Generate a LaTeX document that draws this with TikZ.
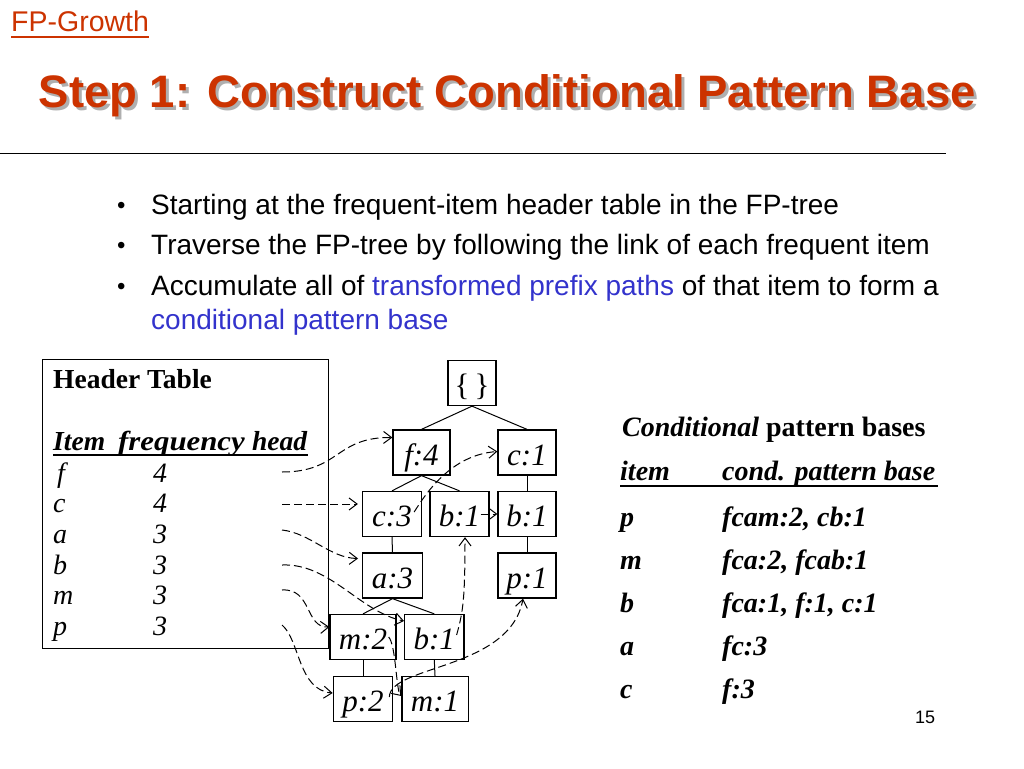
\documentclass[tikz,border=0pt]{standalone}
\usepackage{fontspec}
\setmainfont{Liberation Serif}
\newfontfamily\arial{Liberation Sans}
\usetikzlibrary{arrows.meta}
\definecolor{titlered}{RGB}{204,51,0}
\definecolor{linkblue}{RGB}{51,51,204}
\definecolor{shadowgray}{RGB}{175,175,175}
\newcommand\myfs[1]{\fontsize{#1}{#1}\selectfont}
\newcommand\mytitletext{Step 1: Construct Conditional Pattern Base}
\begin{document}
\begin{tikzpicture}[x=1pt,y=-1pt,
  treenode/.style={draw, line width=1.3pt, minimum height=45pt, inner sep=0pt, text height=25pt, text depth=0pt, font=\myfs{31}\itshape},
  edge/.style={line width=1pt},
  link/.style={line width=1pt, dash pattern=on 8pt off 4pt, -{Straight Barb[length=8pt,width=12pt]}},
  txt/.style={anchor=base west, inner sep=0pt},
  htxt/.style={txt, font=\myfs{28}\itshape},
  rtxt/.style={txt, font=\myfs{28}\bfseries\itshape},
  btxt/.style={txt, font=\arial\myfs{28}}
]
\useasboundingbox (0,0) rectangle (1024,768);
% header
\node[txt, font=\arial\myfs{28.5}, text=titlered] (fpg) at (11,32) {FP-Growth};
\draw[titlered, line width=1.5pt] ([yshift=-5pt]fpg.base west) -- ([yshift=-5pt]fpg.base east);
\node[txt, font=\arial\bfseries\myfs{45.5}] (title) at (38.5,107)
  {\rlap{\kern3pt\raisebox{-3pt}{\textcolor{shadowgray}{\mytitletext}}}\textcolor{titlered}{\mytitletext}};
\draw[line width=1pt] (0,153) -- (946,153);
% bullets
\node[btxt, font=\arial\myfs{24}] (b1) at (117,213) {\textbullet};
\node[btxt] (t1) at (151,214) {Starting at the frequent-item header table in the FP-tree};
\node[btxt, font=\arial\myfs{24}] (b2) at (117,253) {\textbullet};
\node[btxt] (t2) at (151,254) {Traverse the FP-tree by following the link of each frequent item};
\node[btxt, font=\arial\myfs{24}] (b3) at (117,294) {\textbullet};
\node[btxt] (t3) at (151,295) {Accumulate all of \textcolor{linkblue}{transformed prefix paths} of that item to form a};
\node[btxt, text=linkblue] (t4) at (151,329) {conditional pattern base};
% header table
\node[draw, line width=1.3pt, minimum width=286pt, minimum height=289pt, anchor=north west, inner sep=0pt] (htable) at (42,359) {};
\node[txt, font=\myfs{27.5}\bfseries] (htitle) at (53,388) {Header Table};
\node[txt, font=\myfs{27.5}\bfseries\itshape] (hitem) at (53,450) {Item};
\node[txt, font=\myfs{27.5}\bfseries\itshape, xscale=1.12, transform shape] (hfreq) at (118,450) {frequency};
\node[txt, font=\myfs{27.5}\bfseries\itshape] (hhead) at (252,450) {head};
\draw[line width=2pt] (53,454.5) -- (308,454.5);
\node[htxt] (rf) at (57,482) {f};   \node[htxt] (nf) at (153,482) {4};
\node[htxt] (rc) at (53,512) {c};   \node[htxt] (nc) at (153,512) {4};
\node[htxt] (ra) at (53,543) {a};   \node[htxt] (na) at (153,543) {3};
\node[htxt] (rb) at (53,574) {b};   \node[htxt] (nb) at (153,574) {3};
\node[htxt] (rm) at (53,604) {m};   \node[htxt] (nm) at (153,604) {3};
\node[htxt] (rp) at (53,635) {p};   \node[htxt] (np) at (153,635) {3};
\coordinate (hf) at (282,472);
\coordinate (hc) at (282,504);
\coordinate (ha) at (282,530);
\coordinate (hb) at (282,565);
\coordinate (hm) at (282,590);
\coordinate (hp) at (282,625);
% tree
\node[treenode, minimum width=48pt] (root) at (472,383) {\upshape\{\,\}};
\node[treenode, minimum width=57pt] (f4) at (421.5,452.5) {f:4};
\node[treenode, minimum width=58pt] (c1) at (527,452.5) {c:1};
\node[treenode, minimum width=59pt] (c3) at (392,514) {c:3};
\node[treenode, minimum width=59pt] (b1m) at (459.5,514) {b:1};
\node[treenode, minimum width=58pt] (b1r) at (527,514) {b:1};
\node[treenode, minimum width=59.6pt] (a3) at (392.5,575.5) {a:3};
\node[treenode, minimum width=58pt] (p1) at (527,575.5) {p:1};
\node[treenode, minimum width=66pt] (m2) at (363,637) {m:2};
\node[treenode, minimum width=59.3pt] (b1c) at (434.3,637) {b:1};
\node[treenode, minimum width=59.4pt] (p2) at (363,699) {p:2};
\node[treenode, minimum width=66.3pt] (m1) at (435,699) {m:1};
\draw[edge] (root.south) -- (f4.north);
\draw[edge] (root.south) -- (c1.north);
\draw[edge] (f4.south) -- (c3.north);
\draw[edge] (f4.south) -- (b1m.north);
\draw[edge] (c1.south) -- (b1r.north);
\draw[edge] (c3.south) -- (a3.north);
\draw[edge] (b1r.south) -- (p1.north);
\draw[edge] (a3.south) -- (m2.north);
\draw[edge] (a3.south) -- (b1c.north);
\draw[edge] (m2.south) -- (p2.north);
\draw[edge] (b1c.south) -- (m1.north);
% links from header table
\draw[link] (hf) .. controls (340,472) and (335,437) .. ([yshift=15pt]f4.west);
\draw[link] (hc) -- ([xshift=-4pt]hc -| c3.west);
\draw[link] (ha) .. controls (310,533) and (330,558) .. ([xshift=-4pt,yshift=17pt]a3.west);
\draw[link] (hb) .. controls (330,563) and (360,612) .. ([yshift=16pt]b1c.west);
\draw[link] (hm) .. controls (312,588) and (305,628) .. ([yshift=10pt]m2.west);
\draw[link] (hp) .. controls (300,640) and (298,690) .. ([yshift=6pt]p2.west);
% node links
\draw[link] ([xshift=-8pt,yshift=2pt]c3.east) .. controls (425,495) and (450,455) .. ([yshift=1pt]c1.west);
\draw[link] ([xshift=-9pt]b1m.east) -- (b1r.west);
\draw[link] ([xshift=-8pt,yshift=2pt]b1c.east) .. controls (463,612) and (465,600) .. ([xshift=5.5pt]b1m.south);
\draw[link] ([xshift=-8pt]m2.east) .. controls (396,645) and (396,690) .. ([yshift=3pt]m1.west);
\draw[link] ([xshift=-4pt,yshift=2pt]p2.east) .. controls (390,665) and (510,670) .. ([xshift=-4pt]p1.south);
% conditional pattern bases
\node[txt, font=\myfs{28}\bfseries] (ctitle) at (622,436) {\textit{Conditional} pattern bases};
\node[rtxt] (citem) at (620,480) {item};
\node[rtxt] (cbase) at (722,480) {cond. pattern base};
\draw[line width=2pt] (620,486) -- (938,486);
\node[rtxt] (cp) at (620,526) {p};  \node[rtxt] (vp) at (722,526) {fcam:2, cb:1};
\node[rtxt] (cm) at (620,569) {m};  \node[rtxt] (vm) at (722,569) {fca:2, fcab:1};
\node[rtxt] (cb) at (620,612) {b};  \node[rtxt] (vb) at (722,612) {fca:1, f:1, c:1};
\node[rtxt] (ca) at (620,655) {a};  \node[rtxt] (va) at (722,655) {fc:3};
\node[rtxt] (cc) at (620,698) {c};  \node[rtxt] (vc) at (722,698) {f:3};
% page number
\node[txt, font=\arial\myfs{18}] (pnum) at (915,723) {15};
\end{tikzpicture}
\end{document}
